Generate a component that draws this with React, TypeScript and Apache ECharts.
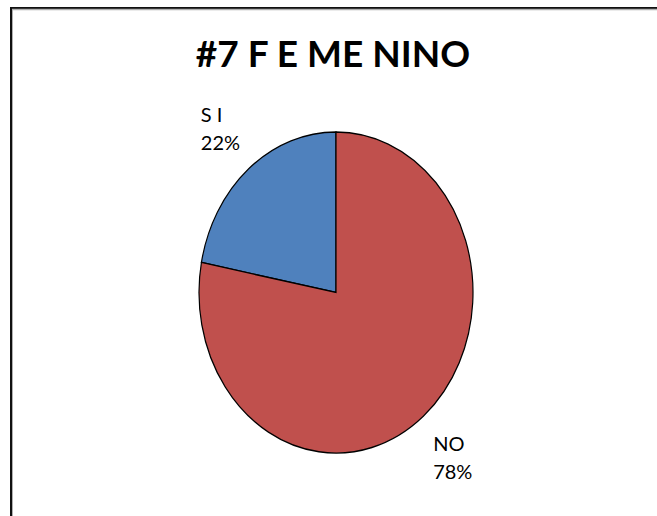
import React, { useEffect, useRef } from "react";
import * as echarts from "echarts";

const TITLE = "#7 F E ME NINO";
const categories = ["S I", "NO"];
const values = [22, 78];

const SLICE_COLORS = ["#4F81BD", "#C0504D"];
const FONT = "Lato, 'Open Sans', sans-serif";

export default function App() {
  const ref = useRef<HTMLDivElement>(null);
  useEffect(() => {
    if (!ref.current) return;
    const chart = echarts.init(ref.current, null, { renderer: "svg" });
    const total = values.reduce((a, b) => a + b, 0);
    const CX = 336;
    const CY = 292.5;
    const RX = 137;
    const RY = 160.5;
    // blue (first) goes counter-clockwise from 12 o'clock, rest clockwise
    const top = -Math.PI / 2;
    const firstSpan = (values[0] / total) * Math.PI * 2;
    const angles: [number, number][] = [];
    let start = top - firstSpan;
    values.forEach((v) => {
      const span = (v / total) * Math.PI * 2;
      angles.push([start, start + span]);
      start += span;
    });

    chart.setOption({
      animation: false,
      backgroundColor: "#ffffff",
      graphic: [
        { type: "line", shape: { x1: 10, y1: 8, x2: 657, y2: 8 }, style: { stroke: "#111", lineWidth: 2 } },
        { type: "line", shape: { x1: 12, y1: 9.5, x2: 657, y2: 9.5 }, style: { stroke: "#b0b0b0", lineWidth: 1.5 } },
        { type: "line", shape: { x1: 11, y1: 7, x2: 11, y2: 516 }, style: { stroke: "#111", lineWidth: 2 } },
        { type: "line", shape: { x1: 12.5, y1: 9, x2: 12.5, y2: 516 }, style: { stroke: "#b0b0b0", lineWidth: 1 } },
        {
          type: "text",
          x: 333,
          y: 52,
          style: {
            text: TITLE,
            fill: "#000",
            font: `bold 37px ${FONT}`,
            textAlign: "center",
            textVerticalAlign: "middle",
          },
        },
      ],
      series: [
        {
          type: "custom",
          coordinateSystem: "none",
          data: values.map((v, i) => ({ value: [v, i], name: categories[i] })),
          renderItem: (params: any) => {
            const i = params.dataIndex;
            const [a0, a1] = angles[i];
            const mid = (a0 + a1) / 2;
            const pct = Math.round((values[i] / total) * 100);
            const lx = CX + 1.33 * RX * Math.cos(mid);
            const ly = CY + 1.33 * RY * Math.sin(mid);
            return {
              type: "group",
              children: [
                {
                  type: "sector",
                  x: CX,
                  y: CY,
                  scaleY: RY / RX,
                  shape: { cx: 0, cy: 0, r: RX, r0: 0, startAngle: a0, endAngle: a1, clockwise: true },
                  style: { fill: SLICE_COLORS[i], stroke: "#000", lineWidth: 1.2 },
                },
                {
                  type: "text",
                  x: lx - 19,
                  y: ly,
                  style: {
                    text: `${categories[i]}\n${pct}%`,
                    fill: "#000",
                    font: `20px ${FONT}`,
                    lineHeight: 28,
                    textAlign: "left",
                    textVerticalAlign: "middle",
                  },
                },
              ],
            };
          },
        },
      ],
    });
    return () => chart.dispose();
  }, []);
  return (
    <div
      ref={ref}
      style={{ position: "fixed", left: 0, top: 0, width: 657, height: 516 }}
    />
  );
}
